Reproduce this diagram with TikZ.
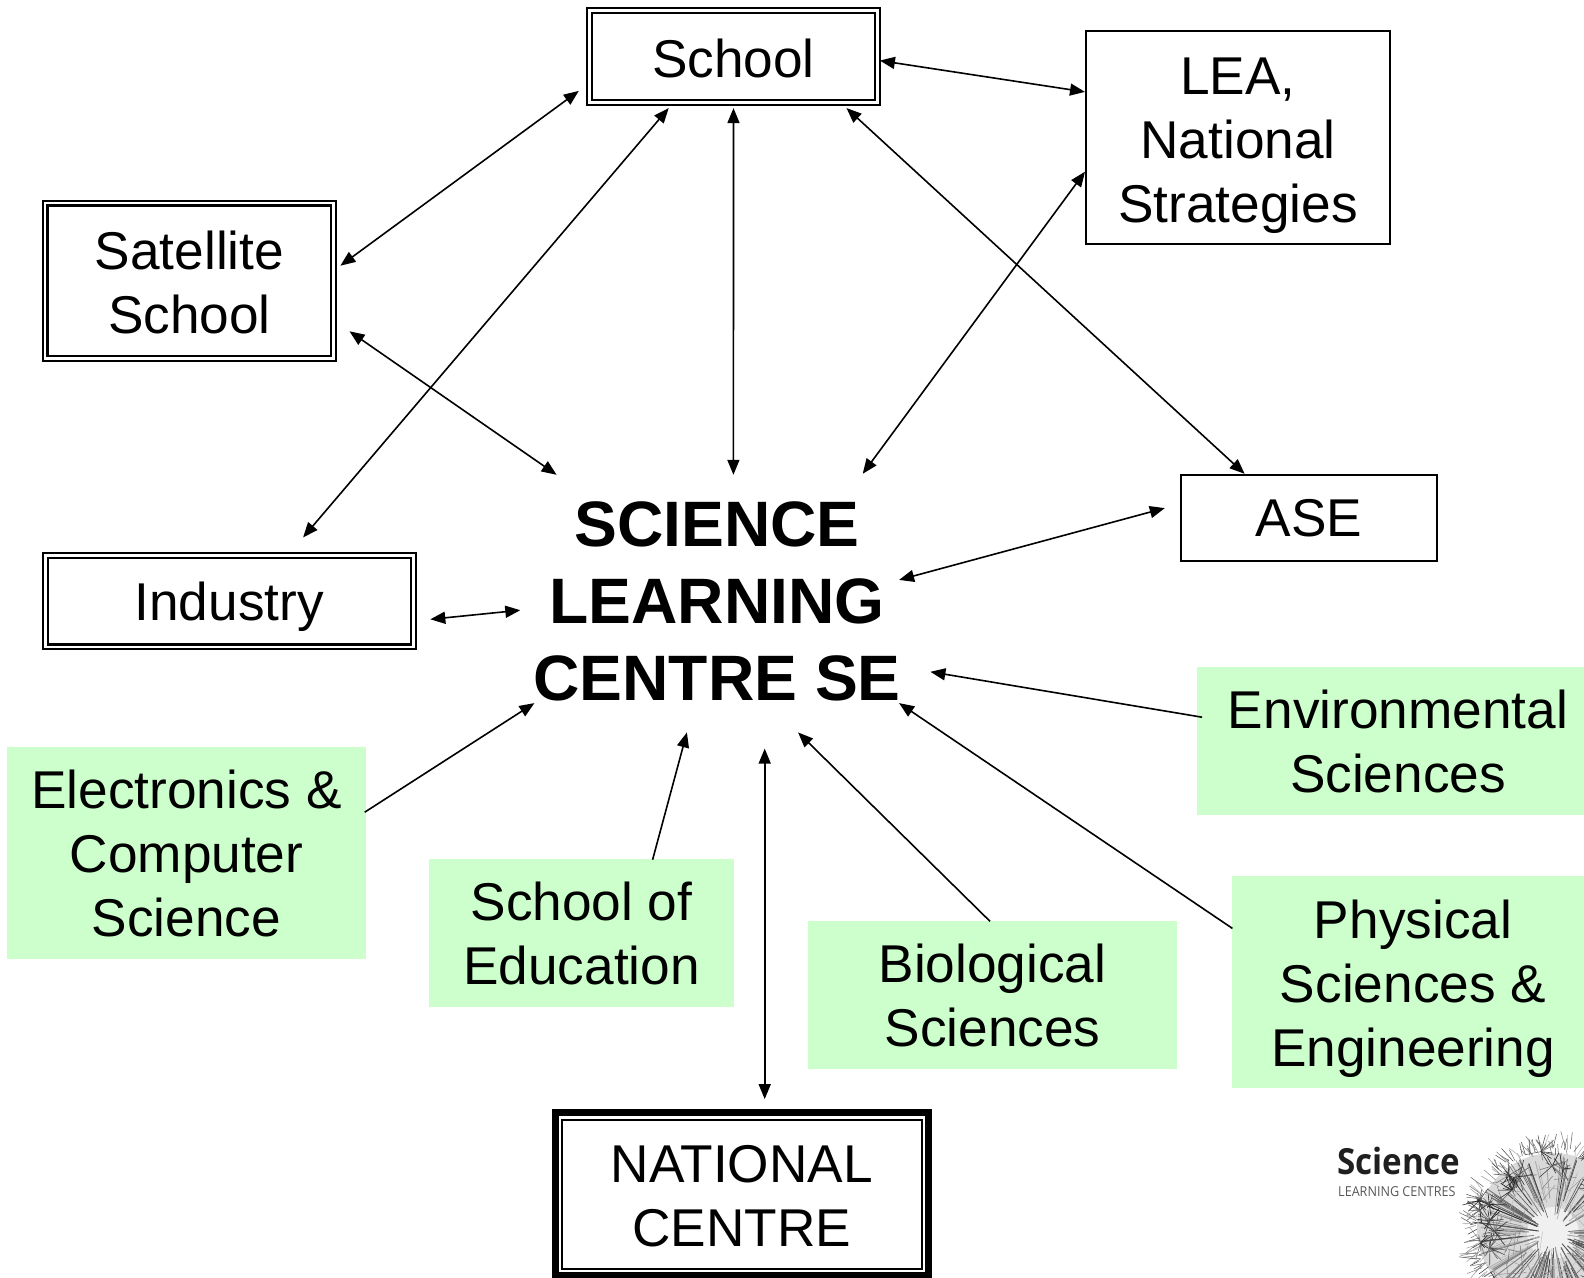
\documentclass[tikz,border=0pt]{standalone}
\usepackage{fontspec}
\setmainfont{Liberation Sans}
\newfontfamily\logofont[FakeStretch=0.92]{Open Sans}
\usetikzlibrary{arrows.meta}
\definecolor{fac}{HTML}{CCFFCC}
\tikzset{
  x=1pt,y=-1pt,
  txt/.style={font=\fontsize{53.2}{64}\selectfont,align=center,inner sep=0pt,outer sep=0pt},
  plainbox/.style={txt,draw=black,line width=2pt},
  dblbox/.style={txt,draw=black,line width=2.2pt,double=white,double distance=2.6pt},
  facbox/.style={txt,fill=fac},
  natbox/.style={txt,draw=black,line width=7pt},
  natinner/.style={draw=black,line width=2pt},
  centrelabel/.style={font=\fontsize{64.2}{77}\selectfont\bfseries,align=center,inner sep=0pt},
  both/.style={line width=1.6pt,{Triangle[length=15pt,width=12pt]}-{Triangle[length=15pt,width=12pt]}},
  one/.style={line width=1.6pt,-{Triangle[length=15pt,width=12pt]}}
}
\newcommand{\at}[3]{([shift={(#2,#3)}]#1.center)}
% lowers a node's text: tall invisible strut on its first line
\newcommand{\dn}[1]{\rule{0pt}{\dimexpr 40pt+#1pt+#1pt\relax}}
\begin{document}
\begin{tikzpicture}
\path[use as bounding box] (0,0) rectangle (1584,1277);
\clip (0,0) rectangle (1584,1277);
\fill[white] (0,0) rectangle (1584,1277);
% logo
\begin{scope}
\clip (1450,1125) rectangle (1584,1277);
\coordinate (dc) at (1553,1233);
\coordinate (dt) at (1553,1229);
\fill[gray!30] (dt) circle (76);
\fill[gray!12] (dc) circle (26);
\pgfmathsetseed{11}
\foreach \i in {1,...,150}{
  \pgfmathsetmacro\ang{rnd*360}
  \pgfmathsetmacro\rr{60+rnd*22}
  \pgfmathsetmacro\rs{14+rnd*26}
  \pgfmathsetmacro\sh{30+rnd*50}
  \pgfmathsetmacro\lw{0.4+rnd*0.8}
  \draw[black!\sh,line width=\lw pt] (dc) ++(\ang:\rs) -- ++(\ang:\rr-\rs);
}
\foreach \i in {1,...,110}{
  \pgfmathsetmacro\ang{rnd*360}
  \pgfmathsetmacro\rr{30+rnd*45}
  \pgfmathsetmacro\dl{10+rnd*18}
  \pgfmathsetmacro\dd{rnd*360}
  \pgfmathsetmacro\sh{25+rnd*35}
  \draw[black!\sh,line width=0.5pt] (dt) ++(\ang:\rr) -- +(\dd:\dl);
}
\foreach \c in {1,...,30}{
  \pgfmathsetmacro\ang{rnd*360}
  \pgfmathsetmacro\rc{56+rnd*24}
  \foreach \i in {1,...,12}{
    \pgfmathsetmacro\dl{4+rnd*14}
    \pgfmathsetmacro\dd{rnd*360}
    \pgfmathsetmacro\sh{50+rnd*40}
    \draw[black!\sh,line width=0.6pt] (dt) ++(\ang:\rc) -- +(\dd:\dl);
  }
}
\foreach \i in {1,...,220}{
  \pgfmathsetmacro\ang{rnd*360}
  \pgfmathsetmacro\rr{74+rnd*8}
  \pgfmathsetmacro\dl{5+rnd*14}
  \pgfmathsetmacro\dd{\ang-30+rnd*60}
  \pgfmathsetmacro\sh{30+rnd*50}
  \draw[black!\sh,line width=0.5pt] (dt) ++(\ang:\rr) -- +(\dd:\dl);
}
\end{scope}
\node[inner sep=0pt,anchor=base west,text=black!88,font=\logofont\fontsize{36}{36}\selectfont\bfseries] (lg1) at (1337,1174) {Science};
\node[inner sep=0pt,anchor=base west,text=black!65,font=\logofont\fontsize{13.7}{14}\selectfont] (lg2) at (1338,1196) {LEARNING CENTRES};
% green boxes
\node[facbox,minimum width=402pt,minimum height=148pt] (env) at (1398,741) {Environmental\\Sciences};
\node[facbox,minimum width=362pt,minimum height=212pt] (phys) at (1413,982) {\dn{6}Physical\\Sciences \&\\Engineering};
\node[facbox,minimum width=369pt,minimum height=148pt] (bio) at (992.5,995) {Biological\\Sciences};
\node[facbox,minimum width=305pt,minimum height=148pt] (soe) at (581.5,933) {School of\\Education};
\node[facbox,minimum width=359pt,minimum height=212pt] (elec) at (186.5,853) {Electronics \&\\Computer\\Science};
% white boxes
\node[dblbox,minimum width=288.5pt,minimum height=92.5pt] (school) at (733.5,56.5) {\dn{1}School};
\node[dblbox,minimum width=288.5pt,minimum height=155.5pt] (sat) at (189.4,280.8) {\dn{1}Satellite\\School};
\node[dblbox,minimum width=368pt,minimum height=91.5pt] (ind) at (229.2,601.1) {\dn{5}Industry};
\node[plainbox,minimum width=304pt,minimum height=213pt] (lea) at (1238,137.9) {\dn{6}LEA,\\National\\Strategies};
\node[plainbox,minimum width=256.5pt,minimum height=85.6pt] (ase) at (1309.2,517.8) {ASE};
\node[natbox,minimum width=373pt,minimum height=163.5pt] (nat) at (741.7,1194) {\dn{1}NATIONAL\\CENTRE};
\draw[natinner] ([shift={(6.5,7.5)}]nat.north west) rectangle ([shift={(-6.5,-7)}]nat.south east);
\node[centrelabel] (slc) at (717,601) {SCIENCE\\LEARNING\\CENTRE SE};
% connectors
\draw[both] \at{school}{-154.7}{34.4} -- \at{sat}{151}{-15.1};
\draw[both] \at{school}{-64.8}{51.6} -- \at{ind}{73.9}{-63.7};
\draw[both] \at{school}{0}{51.6} -- \at{slc}{16.4}{-126.2};
\draw[both] \at{school}{113}{51.6} -- \at{ase}{-64.6}{-44};
\draw[both] \at{school}{146.4}{4.1} -- \at{lea}{-153}{-46};
\draw[both] \at{lea}{-153}{33.8} -- \at{slc}{145.7}{-127.2};
\draw[both] \at{sat}{160.1}{50.5} -- \at{slc}{-160.4}{-126.2};
\draw[both] \at{ind}{201.1}{18.2} -- \at{slc}{-196.7}{9.2};
\draw[both] \at{slc}{182.1}{-21.1} -- \at{ase}{-144.4}{-9.7};
\draw[one] \at{env}{-195.9}{-23.8} -- \at{slc}{213.4}{70.8};
\draw[one] \at{phys}{-180.6}{-53.6} -- \at{slc}{182.1}{102.1};
\draw[one] \at{bio}{-2.5}{-73.7} -- \at{slc}{81.1}{131.4};
\draw[one] \at{soe}{71.1}{-73.3} -- \at{slc}{-30.1}{131.4};
\draw[one] \at{elec}{178.2}{-40.8} -- \at{slc}{-182.6}{102.1};
\draw[both] \at{nat}{23}{-94.9} -- \at{slc}{47.7}{147.6};
\end{tikzpicture}
\end{document}
